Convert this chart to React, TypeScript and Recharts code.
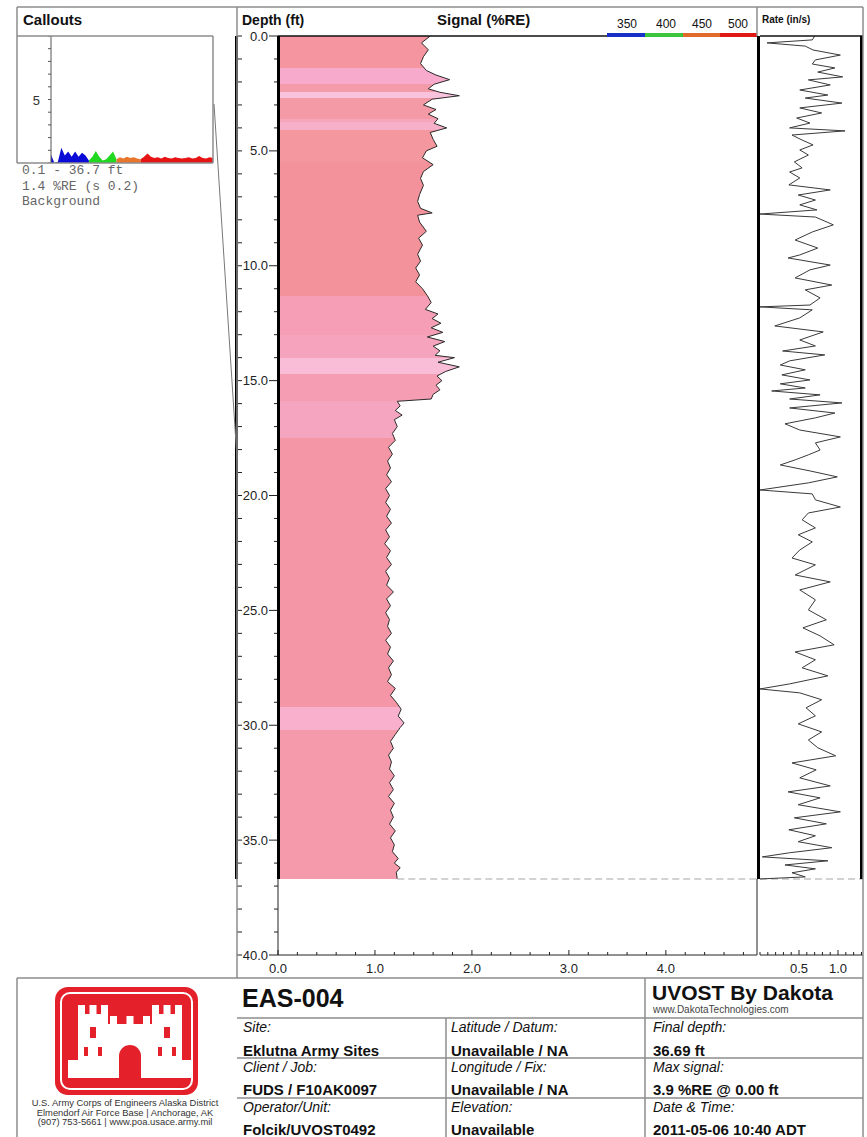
import React from 'react';
import { ComposedChart, Area, Line, XAxis, YAxis, ReferenceLine } from 'recharts';

const FONT = '"Liberation Sans", Arial, Helvetica, sans-serif';
const MONO = '"Liberation Mono", "DejaVu Sans Mono", "Courier New", monospace';

// ---------------- data ----------------
const signalDepths = [
  0, 0.3, 0.6, 0.9, 1.2, 1.5, 1.7, 1.9, 2.1, 2.3, 2.45, 2.6, 2.75, 3.0, 3.2, 3.4, 3.6, 3.8, 4.0, 4.2,
  4.5, 4.8, 5.0, 5.3, 5.6, 5.9, 6.2, 6.5, 6.9, 7.2, 7.5, 7.7, 7.8, 8.1, 8.5, 8.8, 9.1, 9.5, 9.8, 10.1,
  10.4, 10.7, 11.0, 11.3, 11.6, 11.9, 12.1, 12.3, 12.5, 12.7, 12.9, 13.1, 13.3, 13.5, 13.7, 13.9, 14.0, 14.2, 14.4, 14.6,
  14.8, 15.0, 15.2, 15.4, 15.6, 15.8, 15.9, 16.1, 16.3, 16.5, 16.7, 17.0, 17.3, 17.6, 17.9, 18.2, 18.5, 18.8, 19.1, 19.4,
  19.7, 20.0, 20.3, 20.6, 20.9, 21.2, 21.5, 21.8, 22.1, 22.4, 22.7, 23.0, 23.3, 23.6, 23.9, 24.2, 24.5, 24.8, 25.1, 25.4,
  25.7, 26.0, 26.3, 26.6, 26.9, 27.2, 27.5, 27.8, 28.1, 28.4, 28.7, 29.0, 29.3, 29.6, 29.9, 30.1, 30.4, 30.7, 31.0, 31.3,
  31.6, 31.9, 32.2, 32.5, 32.8, 33.1, 33.4, 33.7, 34.0, 34.3, 34.6, 34.9, 35.2, 35.5, 35.8, 36.0, 36.2, 36.4, 36.69,
];
const signalValues = [
  1.57, 1.48, 1.55, 1.50, 1.47, 1.53, 1.63, 1.77, 1.61, 1.55, 1.67, 1.87, 1.59, 1.50, 1.63, 1.55, 1.65, 1.61, 1.74, 1.57,
  1.60, 1.64, 1.53, 1.49, 1.60, 1.50, 1.47, 1.50, 1.46, 1.44, 1.47, 1.59, 1.44, 1.46, 1.53, 1.45, 1.49, 1.44, 1.47, 1.42,
  1.46, 1.42, 1.49, 1.54, 1.58, 1.52, 1.65, 1.59, 1.68, 1.58, 1.70, 1.54, 1.72, 1.60, 1.67, 1.62, 1.82, 1.65, 1.87, 1.73,
  1.64, 1.69, 1.63, 1.67, 1.60, 1.58, 1.23, 1.26, 1.21, 1.28, 1.20, 1.23, 1.18, 1.21, 1.14, 1.18, 1.13, 1.16, 1.12, 1.17,
  1.11, 1.15, 1.11, 1.16, 1.12, 1.17, 1.11, 1.15, 1.10, 1.16, 1.12, 1.17, 1.11, 1.15, 1.12, 1.19, 1.12, 1.16, 1.11, 1.15,
  1.13, 1.17, 1.11, 1.16, 1.13, 1.19, 1.14, 1.17, 1.13, 1.21, 1.16, 1.22, 1.27, 1.24, 1.30, 1.26, 1.21, 1.16, 1.19, 1.14,
  1.17, 1.15, 1.20, 1.15, 1.19, 1.14, 1.20, 1.16, 1.19, 1.15, 1.21, 1.16, 1.20, 1.18, 1.24, 1.20, 1.26, 1.22, 1.23,
];

const rateDepths = [
  0, 0.17, 0.3, 0.44, 0.61, 0.83, 1.04, 1.22, 1.39, 1.57, 1.78, 1.91, 2.13, 2.35, 2.57, 2.70, 2.92, 3.13, 3.35, 3.57,
  3.79, 4.0, 4.13, 4.31, 4.53, 4.74, 4.96, 5.18, 5.48, 5.74, 5.92, 6.18, 6.48, 6.70, 6.92, 7.14, 7.35, 7.57, 7.75, 7.88,
  8.22, 8.53, 8.88, 9.23, 9.53, 9.66, 9.97, 10.18, 10.53, 10.84, 11.05, 11.40, 11.71, 11.79, 11.92, 12.27, 12.62, 12.88, 13.23, 13.49,
  13.71, 13.88, 14.14, 14.32, 14.53, 14.75, 14.97, 15.14, 15.32, 15.45, 15.62, 15.80, 15.97, 16.19, 16.41, 16.62, 16.88, 17.15, 17.45, 17.71,
  18.02, 18.23, 18.45, 18.67, 18.93, 19.19, 19.45, 19.76, 19.93, 20.19, 20.50, 20.76, 21.06, 21.41, 21.71, 22.02, 22.37, 22.72, 23.02, 23.46,
  23.76, 24.11, 24.54, 24.98, 25.41, 25.76, 26.11, 26.50, 26.81, 27.15, 27.50, 27.85, 28.20, 28.42, 28.59, 28.89, 29.24, 29.59, 29.94, 30.29,
  30.64, 30.98, 31.33, 31.64, 31.94, 32.29, 32.64, 32.90, 33.16, 33.46, 33.77, 34.03, 34.29, 34.55, 34.81, 35.07, 35.33, 35.55, 35.73, 35.90,
  36.08, 36.25, 36.42, 36.60, 36.69,
];
const rateValues = [
  0.70, 0.67, 0.09, 0.58, 0.68, 1.03, 0.71, 0.67, 0.96, 0.74, 1.06, 0.62, 0.90, 0.51, 0.87, 0.58, 1.05, 0.51, 0.79, 0.47,
  0.64, 0.38, 1.09, 0.41, 0.54, 0.68, 0.51, 0.62, 0.44, 0.54, 0.38, 0.51, 0.37, 0.90, 0.49, 0.71, 0.51, 0.73, 0.00, 0.71,
  0.94, 0.67, 0.45, 0.74, 0.51, 0.36, 0.90, 0.64, 0.45, 0.92, 0.58, 0.77, 0.64, 0.00, 0.67, 0.51, 0.19, 0.81, 0.51, 0.71,
  0.29, 0.83, 0.38, 0.26, 0.58, 0.28, 0.64, 0.26, 0.58, 0.15, 0.77, 0.38, 1.05, 0.38, 0.96, 0.71, 0.32, 0.51, 1.03, 0.71,
  0.77, 0.62, 0.45, 0.26, 0.64, 0.99, 0.62, 0.00, 0.67, 0.71, 1.03, 0.62, 0.54, 0.71, 0.49, 0.67, 0.51, 0.41, 0.71, 0.45,
  0.90, 0.51, 0.71, 0.62, 0.85, 0.55, 0.77, 0.95, 0.45, 0.71, 0.54, 0.87, 0.38, 0.00, 0.51, 0.79, 0.59, 0.71, 0.49, 0.79,
  0.62, 0.74, 0.97, 0.41, 0.72, 0.51, 0.90, 0.36, 0.77, 0.49, 1.03, 0.44, 0.85, 0.37, 0.71, 0.49, 0.92, 0.38, 0.03, 0.87,
  0.32, 0.71, 0.41, 0.58, 0.00,
];

// waveform colour bands (depth boundaries and colours of the fill)
const bandDepths = [0, 1.4, 2.1, 2.45, 2.7, 3.6, 3.75, 4.1, 5.5, 11.3, 13.0, 14.0, 14.7, 15.9, 17.5, 29.2, 30.2, 36.69];
const bandColors = [
  '#F4959F', '#F7AACB', '#F49BA9', '#FAC3DD', '#F49AA7', '#F6A5BD', '#F7B0CA', '#F4979F', '#F3929B',
  '#F59EB6', '#F6A3BE', '#F9BDD7', '#F59DB2', '#F6A5C0', '#F496A6', '#F8B0CD', '#F49AAB',
];

// callout waveform (4 channels, shared sample index)
const calloutBlue = [0.65, 0, 0.1, 1.2, 0.6, 0.9, 0.5, 0.9, 0.5, 0.8, 0.6, 0.2];
const calloutGreen = [0.2, 0.5, 0.95, 0.5, 0.2, 0.3, 0.6, 0.9, 0.3];
const calloutOrange = [0.3, 0.45, 0.35, 0.5, 0.4, 0.45, 0.35, 0.3];
const calloutRed = [0.3, 0.5, 0.75, 0.5, 0.4, 0.45, 0.35, 0.5, 0.4, 0.35, 0.45, 0.4, 0.35, 0.4, 0.45, 0.35, 0.4, 0.55, 0.4, 0.35, 0.45, 0.4];
const calloutColors = ['#0B0BD8', '#1FD81F', '#E8762C', '#E61414'];

const legendLabels = ['350', '400', '450', '500'];
const legendColors = ['#1830C8', '#3CC43C', '#E06A2A', '#E01818'];

const depthTicks = Array.from({ length: 41 }, (_, i) => i);
const signalTicks = Array.from({ length: 25 }, (_, i) => Math.round(i * 2) / 10);
const rateTicks = Array.from({ length: 14 }, (_, i) => i / 10);
const calloutTicks = Array.from({ length: 11 }, (_, i) => i);

const FINAL_DEPTH = 36.69;
const DEPTH_MAX = 40;
const SIG_MAX = 4.94;
const RATE_MAX = 1.32;
const CALLOUT_RANGE = [0.1, 36.7];

// ---------------- layout ----------------
const W = 867;
const H = 1137;
const PLOT_TOP = 36;
const PLOT_H = 919;
const depthToY = (d: number) => PLOT_TOP + (d / DEPTH_MAX) * PLOT_H;
const DEPTH_AXIS_W = 41;

const signalData = signalDepths.map((d, i) => ({ depth: d, signal: signalValues[i] }));
const rateData = rateDepths.map((d, i) => ({ depth: d, rate: rateValues[i] }));

const calloutData = (() => {
  const segs = [calloutBlue, calloutGreen, calloutOrange, calloutRed];
  const keys = ['b', 'g', 'o', 'r'];
  const rows: any[] = [];
  let start = 0;
  segs.forEach((seg, s) => {
    seg.forEach((v, j) => {
      const idx = start + j;
      if (!rows[idx]) rows[idx] = { t: idx };
      rows[idx][keys[s]] = v;
    });
    start += seg.length - 1;
  });
  return rows;
})();
const CALLOUT_N = calloutData.length - 1;

// ---------------- ticks ----------------
const DepthTick = (p: any) => {
  const v = p.payload.value;
  const major = v % 5 === 0;
  return (
    <g>
      <line x1={p.x - (major ? 9 : 4)} x2={p.x} y1={p.y} y2={p.y} stroke="#222" strokeWidth={1} />
      <line x1={p.x - DEPTH_AXIS_W} x2={p.x - DEPTH_AXIS_W + 5} y1={p.y} y2={p.y} stroke="#222" strokeWidth={1} />
      {major && (
        <text x={p.x - 10} y={p.y + 4.5} textAnchor="end" fontSize={13} fill="#222" fontFamily={FONT}>
          {v.toFixed(1)}
        </text>
      )}
    </g>
  );
};

const TopTick = (p: any) => <line x1={p.x} x2={p.x} y1={p.y} y2={p.y + 4} stroke="#222" strokeWidth={1} />;

const BottomTick = (p: any, labels: number[]) => {
  const v = p.payload.value;
  const major = labels.some((l) => Math.abs(l - v) < 1e-6);
  return (
    <g>
      <line x1={p.x} x2={p.x} y1={p.y} y2={p.y - (major ? 5 : 3)} stroke="#222" strokeWidth={1} />
      {major && (
        <text x={p.x} y={p.y + 18} textAnchor="middle" fontSize={13} fill="#222" fontFamily={FONT}>
          {v.toFixed(1)}
        </text>
      )}
    </g>
  );
};

const CalloutTick = (p: any) => {
  const v = p.payload.value;
  return (
    <g>
      <line x1={p.x - 3} x2={p.x} y1={p.y} y2={p.y} stroke="#555" strokeWidth={1} />
      {v === 5 && (
        <text x={p.x - 11} y={p.y + 5} textAnchor="end" fontSize={13} fill="#333" fontFamily={FONT}>
          {v}
        </text>
      )}
    </g>
  );
};

// ---------------- charts ----------------
const CalloutChart = () => (
  <ComposedChart width={196} height={127} data={calloutData} margin={{ top: 0, right: 0, bottom: 0, left: 0 }}>
    <XAxis dataKey="t" type="number" domain={[0, CALLOUT_N]} hide />
    <YAxis
      type="number"
      domain={[0, 10]}
      ticks={calloutTicks}
      interval={0}
      width={34}
      tickLine={false}
      tickSize={0}
      tickMargin={0}
      axisLine={{ stroke: '#555' }}
      tick={(p: any) => <CalloutTick {...p} />}
    />
    {['b', 'g', 'o', 'r'].map((k, i) => (
      <Area
        key={k}
        dataKey={k}
        type="linear"
        stroke="none"
        fill={calloutColors[i]}
        fillOpacity={1}
        isAnimationActive={false}
        dot={false}
        activeDot={false}
      />
    ))}
  </ComposedChart>
);

const SignalChart = () => (
  <ComposedChart
    layout="vertical"
    width={520}
    height={947}
    data={signalData}
    margin={{ top: 0, right: 0, bottom: 0, left: 0 }}
  >
    <defs>
      <linearGradient id="bandFill" x1="0" y1="0" x2="0" y2="1">
        {bandColors.flatMap((c, i) => [
          <stop key={`a${i}`} offset={bandDepths[i] / FINAL_DEPTH} stopColor={c} />,
          <stop key={`b${i}`} offset={bandDepths[i + 1] / FINAL_DEPTH} stopColor={c} />,
        ])}
      </linearGradient>
    </defs>
    <XAxis
      xAxisId="top"
      orientation="top"
      type="number"
      domain={[0, SIG_MAX]}
      ticks={signalTicks}
      interval={0}
      height={6}
      tickLine={false}
      tickSize={0}
      tickMargin={0}
      axisLine={{ stroke: '#111', strokeWidth: 1.5 }}
      tick={(p: any) => <TopTick {...p} />}
    />
    <XAxis
      type="number"
      domain={[0, SIG_MAX]}
      ticks={signalTicks}
      interval={0}
      height={22}
      tickLine={false}
      tickSize={0}
      tickMargin={0}
      axisLine={{ stroke: '#222' }}
      tick={(p: any) => BottomTick(p, [0, 1, 2, 3, 4])}
    />
    <YAxis
      type="number"
      dataKey="depth"
      domain={[0, DEPTH_MAX]}
      ticks={depthTicks}
      interval={0}
      width={DEPTH_AXIS_W}
      tickLine={false}
      tickSize={0}
      tickMargin={0}
      axisLine={{ stroke: '#222' }}
      tick={(p: any) => <DepthTick {...p} />}
    />
    <Area
      dataKey="signal"
      type="linear"
      stroke="#2a2a2a"
      strokeWidth={1}
      fill="url(#bandFill)"
      fillOpacity={1}
      isAnimationActive={false}
      dot={false}
      activeDot={false}
    />
    <ReferenceLine
      segment={[
        { x: signalValues[signalValues.length - 1], y: FINAL_DEPTH },
        { x: SIG_MAX, y: FINAL_DEPTH },
      ]}
      stroke="#c4c4c4"
      strokeWidth={1.5}
      strokeDasharray="7 4"
    />
  </ComposedChart>
);

const RateChart = () => (
  <ComposedChart
    layout="vertical"
    width={106}
    height={947}
    data={rateData}
    margin={{ top: 0, right: 0, bottom: 0, left: 3 }}
  >
    <XAxis
      xAxisId="top"
      orientation="top"
      type="number"
      domain={[0, RATE_MAX]}
      ticks={rateTicks}
      interval={0}
      height={6}
      tickLine={false}
      tickSize={0}
      tickMargin={0}
      axisLine={{ stroke: '#111', strokeWidth: 1.5 }}
      tick={(p: any) => <TopTick {...p} />}
    />
    <XAxis
      type="number"
      domain={[0, RATE_MAX]}
      ticks={rateTicks}
      interval={0}
      height={22}
      tickLine={false}
      tickSize={0}
      tickMargin={0}
      axisLine={{ stroke: '#222' }}
      tick={(p: any) => BottomTick(p, [0.5, 1.0])}
    />
    <YAxis type="number" dataKey="depth" domain={[0, DEPTH_MAX]} hide />
    <ReferenceLine y={FINAL_DEPTH} stroke="#c4c4c4" strokeWidth={1.5} strokeDasharray="7 4" />
    <Line
      dataKey="rate"
      type="linear"
      stroke="#3a3a3a"
      strokeWidth={1}
      dot={false}
      activeDot={false}
      isAnimationActive={false}
    />
  </ComposedChart>
);

// ---------------- text helpers ----------------
const T = (props: { left: number; top: number; size: number; children: React.ReactNode; style?: React.CSSProperties }) => (
  <div
    style={{
      position: 'absolute',
      left: props.left,
      top: props.top,
      fontSize: props.size,
      lineHeight: 1,
      whiteSpace: 'nowrap',
      color: '#111',
      ...props.style,
    }}
  >
    {props.children}
  </div>
);

const FRAME = '#8c8c8c';

export default function App() {
  const finalY = depthToY(FINAL_DEPTH);
  const midY = depthToY((CALLOUT_RANGE[0] + CALLOUT_RANGE[1]) / 2);
  const bars = [235, 277, 757, 860];
  const legendX = [607, 645, 683, 720, 757];
  return (
    <div
      style={{
        position: 'absolute',
        left: 0,
        top: 0,
        width: W,
        height: H,
        background: '#fff',
        overflow: 'hidden',
        fontFamily: FONT,
      }}
    >
      <div style={{ position: 'absolute', left: 17, top: 36 }}>
        <CalloutChart />
      </div>
      <div style={{ position: 'absolute', left: 237, top: 30 }}>
        <SignalChart />
      </div>
      <div style={{ position: 'absolute', left: 757, top: 30 }}>
        <RateChart />
      </div>

      {/* progress bars (final depth extent) */}
      {bars.map((x) => (
        <div
          key={x}
          style={{ position: 'absolute', left: x, top: PLOT_TOP, width: 3, height: finalY - PLOT_TOP, background: '#000' }}
        />
      ))}

      {/* legend colour bars */}
      {legendColors.map((c, i) => (
        <div
          key={c}
          style={{
            position: 'absolute',
            left: legendX[i],
            top: 33,
            width: legendX[i + 1] - legendX[i],
            height: 4,
            background: c,
          }}
        />
      ))}

      <svg width={W} height={H} style={{ position: 'absolute', left: 0, top: 0, pointerEvents: 'none' }}>
        {/* frame */}
        <g stroke={FRAME} strokeWidth={1.5} fill="none">
          <line x1={17} y1={7} x2={863} y2={7} />
          <line x1={17} y1={7} x2={17} y2={163} />
          <line x1={237} y1={7} x2={237} y2={978} />
          <line x1={757} y1={7} x2={757} y2={36} />
          <line x1={863} y1={7} x2={863} y2={1137} />
          <line x1={17} y1={36} x2={213} y2={36} />
          <line x1={213} y1={36} x2={213} y2={163} />
          <line x1={17} y1={163} x2={213} y2={163} />
          <line x1={17} y1={978} x2={863} y2={978} />
          <line x1={17} y1={978} x2={17} y2={1137} />
          <line x1={237} y1={1018} x2={863} y2={1018} />
          <line x1={237} y1={1058} x2={863} y2={1058} />
          <line x1={237} y1={1098} x2={863} y2={1098} />
          <line x1={446} y1={1018} x2={446} y2={1137} />
          <line x1={645} y1={978} x2={645} y2={1137} />
        </g>
        <line x1={757} y1={finalY} x2={757} y2={955} stroke="#222" strokeWidth={1} />
        {/* callout leader */}
        <line x1={214} y1={104} x2={237} y2={midY} stroke="#777" strokeWidth={1} />

        {/* logo */}
        <rect x={55} y={987} width={143} height={108} rx={13} fill="#E4202A" />
        <rect x={61} y={993} width={131} height={96} rx={9} fill="none" stroke="#fff" strokeWidth={2} />
        <g fill="#fff">
          <rect x={78} y={1014} width={30} height={50} />
          <rect x={78} y={1005} width={7} height={10} />
          <rect x={89.5} y={1005} width={7} height={10} />
          <rect x={101} y={1005} width={7} height={10} />
          <rect x={152} y={1014} width={30} height={50} />
          <rect x={152} y={1005} width={7} height={10} />
          <rect x={163.5} y={1005} width={7} height={10} />
          <rect x={175} y={1005} width={7} height={10} />
          <rect x={108} y={1024} width={44} height={40} />
          <rect x={110} y={1016} width={7} height={9} />
          <rect x={126.5} y={1016} width={7} height={9} />
          <rect x={143} y={1016} width={7} height={9} />
          <rect x={68} y={1060} width={124} height={18} />
        </g>
        <g fill="#E4202A">
          <path d="M119 1078 V1056 A11 11 0 0 1 141 1056 V1078 Z" />
          <rect x={90} y={1027} width={6} height={11} />
          <rect x={164} y={1027} width={6} height={11} />
          <rect x={84} y={1047} width={4} height={9} />
          <rect x={98} y={1047} width={4} height={9} />
          <rect x={158} y={1047} width={4} height={9} />
          <rect x={172} y={1047} width={4} height={9} />
        </g>
      </svg>

      {/* header */}
      <T left={23} top={12} size={15} style={{ fontWeight: 'bold' }}>Callouts</T>
      <T left={242} top={13} size={14} style={{ fontWeight: 'bold' }}>Depth (ft)</T>
      <T left={437} top={12} size={15} style={{ fontWeight: 'bold' }}>Signal (%RE)</T>
      <T left={762} top={15} size={10} style={{ fontWeight: 'bold' }}>Rate (in/s)</T>
      {legendLabels.map((l, i) => (
        <T key={l} left={[627, 666, 702, 738][i]} top={18} size={12} style={{ transform: 'translateX(-50%)' }}>
          {l}
        </T>
      ))}

      {/* callout text */}
      <T left={22} top={164} size={13} style={{ fontFamily: MONO, color: '#666' }}>0.1 - 36.7 ft</T>
      <T left={22} top={180} size={13} style={{ fontFamily: MONO, color: '#666' }}>1.4 %RE (s 0.2)</T>
      <T left={22} top={195} size={13} style={{ fontFamily: MONO, color: '#666' }}>Background</T>

      {/* info table */}
      <T left={242} top={986} size={25} style={{ fontWeight: 'bold' }}>EAS-004</T>
      <T left={243} top={1020} size={14} style={{ fontStyle: 'italic' }}>Site:</T>
      <T left={243} top={1043} size={15} style={{ fontWeight: 'bold' }}>Eklutna Army Sites</T>
      <T left={243} top={1060} size={14} style={{ fontStyle: 'italic' }}>Client / Job:</T>
      <T left={243} top={1082} size={15} style={{ fontWeight: 'bold' }}>FUDS / F10AK0097</T>
      <T left={243} top={1100} size={14} style={{ fontStyle: 'italic' }}>Operator/Unit:</T>
      <T left={243} top={1122} size={15} style={{ fontWeight: 'bold' }}>Folcik/UVOST0492</T>

      <T left={451} top={1020} size={14} style={{ fontStyle: 'italic' }}>Latitude / Datum:</T>
      <T left={451} top={1043} size={15} style={{ fontWeight: 'bold' }}>Unavailable / NA</T>
      <T left={451} top={1060} size={14} style={{ fontStyle: 'italic' }}>Longitude / Fix:</T>
      <T left={451} top={1082} size={15} style={{ fontWeight: 'bold' }}>Unavailable / NA</T>
      <T left={451} top={1100} size={14} style={{ fontStyle: 'italic' }}>Elevation:</T>
      <T left={451} top={1122} size={15} style={{ fontWeight: 'bold' }}>Unavailable</T>

      <T left={652} top={982} size={21} style={{ fontWeight: 'bold' }}>UVOST By Dakota</T>
      <T left={653} top={1005} size={10} style={{ color: '#444' }}>www.DakotaTechnologies.com</T>
      <T left={653} top={1020} size={14} style={{ fontStyle: 'italic' }}>Final depth:</T>
      <T left={653} top={1043} size={15} style={{ fontWeight: 'bold' }}>36.69 ft</T>
      <T left={653} top={1060} size={14} style={{ fontStyle: 'italic' }}>Max signal:</T>
      <T left={653} top={1082} size={15} style={{ fontWeight: 'bold' }}>3.9 %RE @ 0.00 ft</T>
      <T left={653} top={1100} size={14} style={{ fontStyle: 'italic' }}>Date &amp; Time:</T>
      <T left={653} top={1122} size={15} style={{ fontWeight: 'bold' }}>2011-05-06 10:40 ADT</T>

      {/* logo caption */}
      {[
        'U.S. Army Corps of Engineers Alaska District',
        'Elmendorf Air Force Base | Anchorage, AK',
        '(907) 753-5661 | www.poa.usace.army.mil',
      ].map((s, i) => (
        <T key={s} left={125} top={1098 + i * 9.6} size={9.4} style={{ transform: 'translateX(-50%)', color: '#333' }}>
          {s}
        </T>
      ))}
    </div>
  );
}
